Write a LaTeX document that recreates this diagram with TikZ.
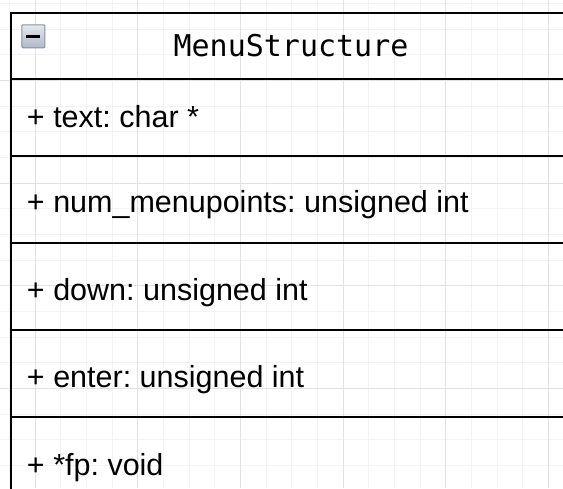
\documentclass[tikz,border=0pt]{standalone}
\usepackage{fontspec}
\setmainfont{Liberation Sans}
\newfontfamily\monofont{DejaVu Sans Mono}
\usetikzlibrary{positioning}
\frenchspacing

\definecolor{gridminor}{RGB}{243,243,243}
\definecolor{gridmajor}{RGB}{226,226,226}
\definecolor{toggleline}{RGB}{136,146,164}
\definecolor{toggletop}{RGB}{230,233,239}
\definecolor{togglebot}{RGB}{176,184,198}

\begin{document}
\begin{tikzpicture}[x=1pt,y=-1pt]
    \tikzstyle{every node}=[inner sep=0pt, outer sep=0pt]
    \tikzstyle{classrow}=[draw=black, line width=1.8pt, minimum width=560pt]
    \tikzstyle{classname}=[font=\monofont\fontsize{30}{36}\selectfont, anchor=base]
    \tikzstyle{attr}=[font=\fontsize{30.5}{36}\selectfont, anchor=base west]
    \tikzstyle{togglebox}=[draw=toggleline, line width=1pt, rounded corners=1pt, minimum size=23pt, top color=toggletop, bottom color=togglebot]
    \useasboundingbox (0,0) rectangle (563,488);
    \clip (0,0) rectangle (563,488);
    % grid behind the class
    \foreach \k in {-1,...,21} {
        \draw[gridminor, line width=1pt] ({35+\k*25.67},0) -- ({35+\k*25.67},488);
    }
    \foreach \k in {-4,...,16} {
        \draw[gridminor, line width=1pt] (0,{80.5+\k*25.67}) -- (563,{80.5+\k*25.67});
    }
    \foreach \k in {0,...,5} {
        \draw[gridmajor, line width=1pt] ({35+\k*102.68},0) -- ({35+\k*102.68},488);
    }
    \foreach \k in {-1,...,4} {
        \draw[gridmajor, line width=1pt] (0,{80.5+\k*102.68}) -- (563,{80.5+\k*102.68});
    }
    % class compartments
    \node[classrow, minimum height=66pt, anchor=north west] (head) at (11,13) {};
    \node[classrow, minimum height=77pt, below=0pt of head] (row1) {};
    \node[classrow, minimum height=87pt, below=0pt of row1] (row2) {};
    \node[classrow, minimum height=87pt, below=0pt of row2] (row3) {};
    \node[classrow, minimum height=87pt, below=0pt of row3] (row4) {};
    \node[classrow, minimum height=87pt, below=0pt of row4] (row5) {};
    % collapse button
    \node[togglebox] (toggle) at (33.4,36.3) {};
    \draw[line width=3.2pt] ([xshift=-7pt]toggle.center) -- ([xshift=7pt]toggle.center);
    % texts
    \node[classname] (name) at (291,56) {MenuStructure};
    \node[attr] (text) at (27,127.3) {+ text: char *};
    \node[attr] (num) at (27,212.7) {+ num\_menupoints: unsigned int};
    \node[attr] (down) at (27,300) {+ down: unsigned int};
    \node[attr] (enter) at (27,387.5) {+ enter: unsigned int};
    \node[attr] (fp) at (27,475) {+ *fp: void};
\end{tikzpicture}
\end{document}
